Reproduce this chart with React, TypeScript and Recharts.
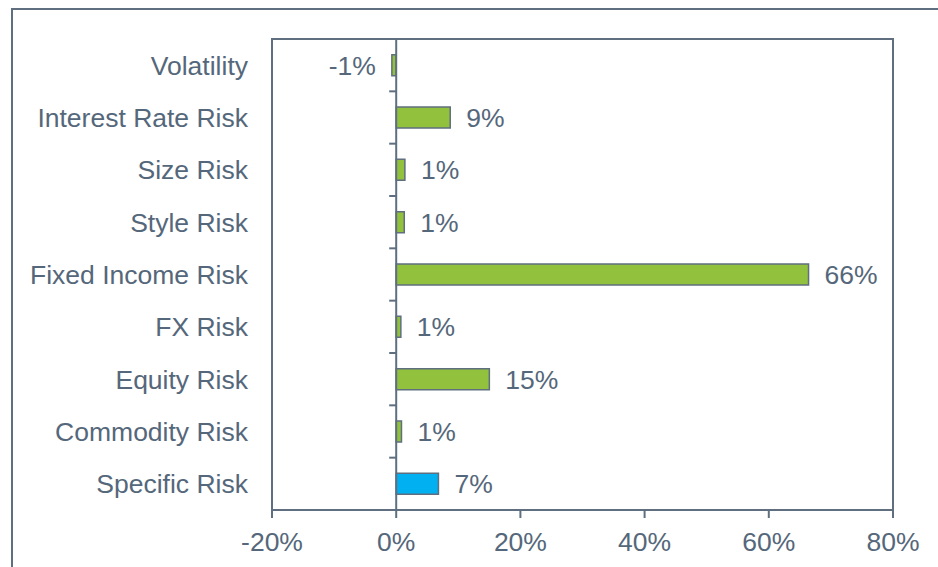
import React from 'react';
import { BarChart, Bar, XAxis, YAxis, ReferenceArea, ReferenceLine, LabelList, Cell } from 'recharts';

const categories = [
  'Volatility',
  'Interest Rate Risk',
  'Size Risk',
  'Style Risk',
  'Fixed Income Risk',
  'FX Risk',
  'Equity Risk',
  'Commodity Risk',
  'Specific Risk',
];
const contributions = [-0.7, 8.7, 1.4, 1.3, 66.4, 0.75, 15.0, 0.85, 6.8];
const xTicks = [-20, 0, 20, 40, 60, 80];

const data = categories.map((name, i) => ({ name, value: contributions[i] }));

const TEXT = '#55677a';
const LINE = '#5f6f7f';
const GREEN = '#92c13e';
const BLUE = '#00b0f0';
const FONT = '"Liberation Sans", Arial, sans-serif';
const FS = 26.5;

// zero axis line with small category separator ticks on its left side
const ZeroAxis = (props: any) => {
  const { x1, y1, x2, y2 } = props;
  const n = categories.length;
  const step = (y2 - y1) / n;
  const ticks = [];
  for (let i = 1; i < n; i++) {
    const y = y1 + step * i;
    ticks.push(<line key={i} x1={x1 - 7} x2={x1} y1={y} y2={y} stroke={LINE} strokeWidth={2} />);
  }
  return (
    <g>
      <line x1={x1} y1={y1} x2={x2} y2={y2} stroke={LINE} strokeWidth={2} />
      {ticks}
    </g>
  );
};

export default function App() {
  return (
    <div style={{ position: 'absolute', left: 0, top: 0, width: 938, height: 567, overflow: 'hidden', background: '#fff', fontFamily: FONT }}>
      <div style={{ position: 'absolute', left: 11, top: 8, width: 960, height: 600, border: `2px solid ${LINE}` }} />
      <div style={{ position: 'absolute', left: 0, top: 0 }}>
        <BarChart
          width={938}
          height={567}
          layout="vertical"
          data={data}
          margin={{ top: 39, right: 45, left: 0, bottom: 0 }}
          barCategoryGap="30%"
        >
          <XAxis
            type="number"
            domain={[-20, 80]}
            ticks={xTicks}
            allowDataOverflow
            tickFormatter={(v) => `${v}%`}
            height={57}
            stroke={LINE}
            axisLine={{ stroke: LINE, strokeWidth: 2 }}
            tickLine={{ stroke: LINE, strokeWidth: 2 }}
            tickSize={8}
            tickMargin={14}
            tick={{ fill: TEXT, fontSize: FS, fontFamily: FONT }}
          />
          <YAxis
            type="category"
            dataKey="name"
            width={272}
            interval={0}
            axisLine={false}
            tickLine={false}
            tickSize={0}
            tickMargin={24}
            tick={{ fill: TEXT, fontSize: FS, fontFamily: FONT }}
          />
          <ReferenceArea x1={-20} x2={80} fill="none" stroke={LINE} strokeWidth={2} />
          <ReferenceLine x={0} stroke={LINE} shape={ZeroAxis} />
          <Bar dataKey="value" isAnimationActive={false} stroke={LINE} strokeWidth={1.5}>
            {data.map((d) => (
              <Cell key={d.name} fill={d.name === 'Specific Risk' ? BLUE : GREEN} />
            ))}
            <LabelList
              dataKey="value"
              position="right"
              offset={16}
              formatter={(v: any) => `${Math.round(Number(v))}%`}
              fill={TEXT}
              fontSize={FS}
              fontFamily={FONT}
            />
          </Bar>
        </BarChart>
      </div>
    </div>
  );
}
